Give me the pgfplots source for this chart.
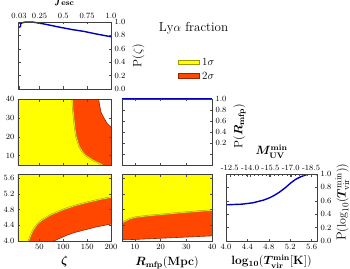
\documentclass[border=0pt]{standalone}
\usepackage{amsmath}
\usepackage{bm}
\usepackage{pgfplots}
\pgfplotsset{compat=1.18}
\definecolor{cyel}{rgb}{1,1,0}
\definecolor{cred}{rgb}{1,0.28,0}
\definecolor{colive}{rgb}{0.62,0.6,0}
\definecolor{cdred}{rgb}{0.62,0.13,0}
\definecolor{cblue}{rgb}{0,0,0.72}
\pgfplotsset{
  myax/.style={scale only axis,
    axis line style={black!75,line width=0.6pt},
    tick style={black!70,line width=0.4pt},
    major tick length=2.5pt, minor tick length=1.5pt,
    every tick label/.append style={font=\fontsize{8}{9}\selectfont},
    every axis label/.append style={font=\fontsize{12}{13}\selectfont},
    axis on top},
}
\begin{document}
\begin{tikzpicture}
% P1: P(zeta)
\begin{axis}[myax, anchor=south west, at={(18pt,179pt)}, width=93pt, height=67pt,
  xmin=5, xmax=200, ymin=0, ymax=1,
  xtick={7,50,100,150,200}, xticklabels={0.03,0.25,0.5,0.75,1.0}, xticklabel pos=upper,
  ytick={0,0.2,0.4,0.6,0.8,1}, yticklabels={0.0,0.2,0.4,0.6,0.8,1.0}, yticklabel pos=right,
  xlabel={$\bm{f}_{\mathbf{esc}}$}, ylabel={P$(\zeta)$}]
\addplot[cblue, line width=1.4pt] coordinates {(5,0.83) (6,0.92) (10,0.93) (11,0.98) (15,0.99) (20,1.0) (35,1.0) (60,0.97) (94,0.92) (120,0.885) (143,0.86) (170,0.82) (200,0.78)};
\end{axis}
% P2: Rmfp vs zeta
\begin{axis}[myax, anchor=south west, at={(18pt,103pt)}, width=93pt, height=66pt,
  xmin=5, xmax=200, ymin=5, ymax=40,
  xtick={50,100,150,200}, xticklabels={}, ytick={10,20,30,40},
  ylabel={$\bm{R}_{\mathbf{mfp}}\mathbf{(Mpc)}$}]
\addplot[fill=cred, draw=none] coordinates {(5,5) (5,40) (174,40) (176,37) (179,33) (185,30) (192,27) (200,25) (200,5)} -- cycle;
\addplot[fill=cyel, draw=none] coordinates {(5,5) (5,40) (119,40) (120,35) (122,30) (124,25) (127,20) (133,15) (140,12) (147,10) (161,7.7) (172,6.3) (182,5)} -- cycle;
\addplot[colive, line width=1.5pt] coordinates {(119,40) (120,35) (122,30) (124,25) (127,20) (133,15) (140,12) (147,10) (161,7.7) (172,6.3) (182,5)};
\addplot[cyel, line width=0.5pt] coordinates {(119,40) (120,35) (122,30) (124,25) (127,20) (133,15) (140,12) (147,10) (161,7.7) (172,6.3) (182,5)};
\addplot[cdred, line width=0.6pt] coordinates {(174,40) (176,37) (179,33) (185,30) (192,27) (200,25)};
\end{axis}
% P3: P(Rmfp)
\begin{axis}[myax, anchor=south west, at={(122pt,103pt)}, width=90pt, height=66pt,
  xmin=5, xmax=40, ymin=-0.2, ymax=1,
  xtick={10,20,30,40}, xticklabels={},
  ytick={0,0.2,0.4,0.6,0.8,1}, yticklabels={,0.2,0.4,0.6,0.8,1.0}, yticklabel pos=right,
  ylabel={P$(\bm{R}_{\mathbf{mfp}})$}, ylabel style={at={(ticklabel cs:0.59)}}]
\addplot[cblue, line width=1.4pt] coordinates {(5,1) (40,1)};
\end{axis}
% P4: logT vs zeta
\begin{axis}[myax, anchor=south west, at={(18pt,27pt)}, width=93pt, height=67pt,
  xmin=5, xmax=200, ymin=4, ymax=5.7,
  xtick={50,100,150,200},
  ytick={4.0,4.4,4.8,5.2,5.6}, yticklabels={4.0,4.4,4.8,5.2,5.6},
  xlabel={$\bm{\zeta}$}, ylabel={$\mathbf{log_{10}(}\bm{T}_{\mathbf{vir}}^{\mathbf{min}}\mathbf{[K])}$}]
\addplot[fill=cred, draw=none] coordinates {(5,4) (80,4) (95,4.08) (108,4.15) (125,4.22) (144,4.28) (170,4.36) (200,4.43) (200,5.7) (5,5.7)} -- cycle;
\addplot[fill=cyel, draw=none] coordinates {(5,4) (27,4) (32,4.15) (37,4.28) (45,4.42) (55,4.53) (73,4.66) (100,4.8) (125,4.9) (150,4.98) (175,5.05) (200,5.11) (200,5.7) (5,5.7)} -- cycle;
\addplot[colive, line width=1.5pt] coordinates {(27,4) (32,4.15) (37,4.28) (45,4.42) (55,4.53) (73,4.66) (100,4.8) (125,4.9) (150,4.98) (175,5.05) (200,5.11)};
\addplot[cyel, line width=0.5pt] coordinates {(27,4) (32,4.15) (37,4.28) (45,4.42) (55,4.53) (73,4.66) (100,4.8) (125,4.9) (150,4.98) (175,5.05) (200,5.11)};
\addplot[cdred, line width=0.6pt] coordinates {(80,4) (95,4.08) (108,4.15) (125,4.22) (144,4.28) (170,4.36) (200,4.43)};
\end{axis}
% P5: logT vs Rmfp
\begin{axis}[myax, anchor=south west, at={(122pt,27pt)}, width=90pt, height=67pt,
  xmin=5, xmax=40, ymin=4, ymax=5.7,
  xtick={10,20,30,40}, ytick={4.0,4.4,4.8,5.2,5.6}, yticklabels={},
  xlabel={$\bm{R}_{\mathbf{mfp}}\mathbf{(Mpc)}$}]
\addplot[fill=cred, draw=none] coordinates {(5,4.03) (10,4.04) (20,4.07) (30,4.1) (40,4.13) (40,5.7) (5,5.7)} -- cycle;
\addplot[fill=cyel, draw=none] coordinates {(5,4.45) (6,4.5) (8,4.56) (10,4.6) (15,4.64) (20,4.67) (30,4.73) (40,4.78) (40,5.7) (5,5.7)} -- cycle;
\addplot[colive, line width=1.5pt] coordinates {(5,4.45) (6,4.5) (8,4.56) (10,4.6) (15,4.64) (20,4.67) (30,4.73) (40,4.78)};
\addplot[cyel, line width=0.5pt] coordinates {(5,4.45) (6,4.5) (8,4.56) (10,4.6) (15,4.64) (20,4.67) (30,4.73) (40,4.78)};
\addplot[cdred, line width=0.6pt] coordinates {(5,4.03) (10,4.04) (20,4.07) (30,4.1) (40,4.13)};
\end{axis}
% P6: P(logT)
\begin{axis}[myax, anchor=south west, at={(226pt,27pt)}, width=91pt, height=67pt,
  xmin=4, xmax=5.7, ymin=0, ymax=1,
  xtick={4.0,4.4,4.8,5.2,5.6}, xticklabels={4.0,4.4,4.8,5.2,5.6},
  ytick={0,0.2,0.4,0.6,0.8,1}, yticklabels={0.0,0.2,0.4,0.6,0.8,1.0}, yticklabel pos=right,
  xlabel={$\mathbf{log_{10}(}\bm{T}_{\mathbf{vir}}^{\mathbf{min}}\mathbf{[K])}$},
  xlabel style={yshift=2pt},
  ylabel={P$(\log_{10}(\bm{T}_{\rm vir}^{\rm min}))$},
  ylabel shift=-3pt,
  ylabel style={font=\fontsize{13}{14}\selectfont, at={(ticklabel cs:0.58)}}]
\addplot[cblue, line width=1.4pt] coordinates {(4.0,0.54) (4.3,0.55) (4.5,0.57) (4.6,0.59) (4.7,0.61) (4.8,0.64) (4.9,0.68) (5.0,0.73) (5.1,0.79) (5.2,0.86) (5.3,0.92) (5.4,0.96) (5.5,0.99) (5.55,1.0) (5.65,1.0) (5.7,0.99)};
\end{axis}
\begin{axis}[myax, anchor=south west, at={(226pt,27pt)}, width=91pt, height=67pt,
  xmin=4, xmax=5.7, ymin=0, ymax=1,
  axis x line*=top, hide y axis, xtick align=inside,
  xtick={4.07,4.45,4.83,5.21,5.59},
  xticklabels={\textrm{-12.5},\textrm{-14.0},\textrm{-15.5},\textrm{-17.0},\textrm{-18.5}},
  minor x tick num=4,
  xlabel={$\bm{M}_{\mathbf{UV}}^{\mathbf{min}}$}]
\addplot[draw=none] coordinates {(4,0) (5.7,1)};
\end{axis}
% legend and title
\fill[cyel, draw=colive, line width=0.5pt] (178pt,204pt) rectangle (199pt,208pt);
\node[anchor=west, font=\fontsize{11}{12}\selectfont, inner sep=1pt] at (201pt,206pt) {1$\sigma$};
\fill[cred, draw=cdred, line width=0.5pt] (178pt,190pt) rectangle (199pt,194.5pt);
\node[anchor=west, font=\fontsize{11}{12}\selectfont, inner sep=1pt] at (201pt,192pt) {2$\sigma$};
\node[font=\fontsize{13}{14}\selectfont] at (193.5pt,240pt) {Ly$\alpha$ fraction};
\pgfresetboundingbox
\useasboundingbox (0pt,0pt) rectangle (350pt,268pt);
\end{tikzpicture}
\end{document}
